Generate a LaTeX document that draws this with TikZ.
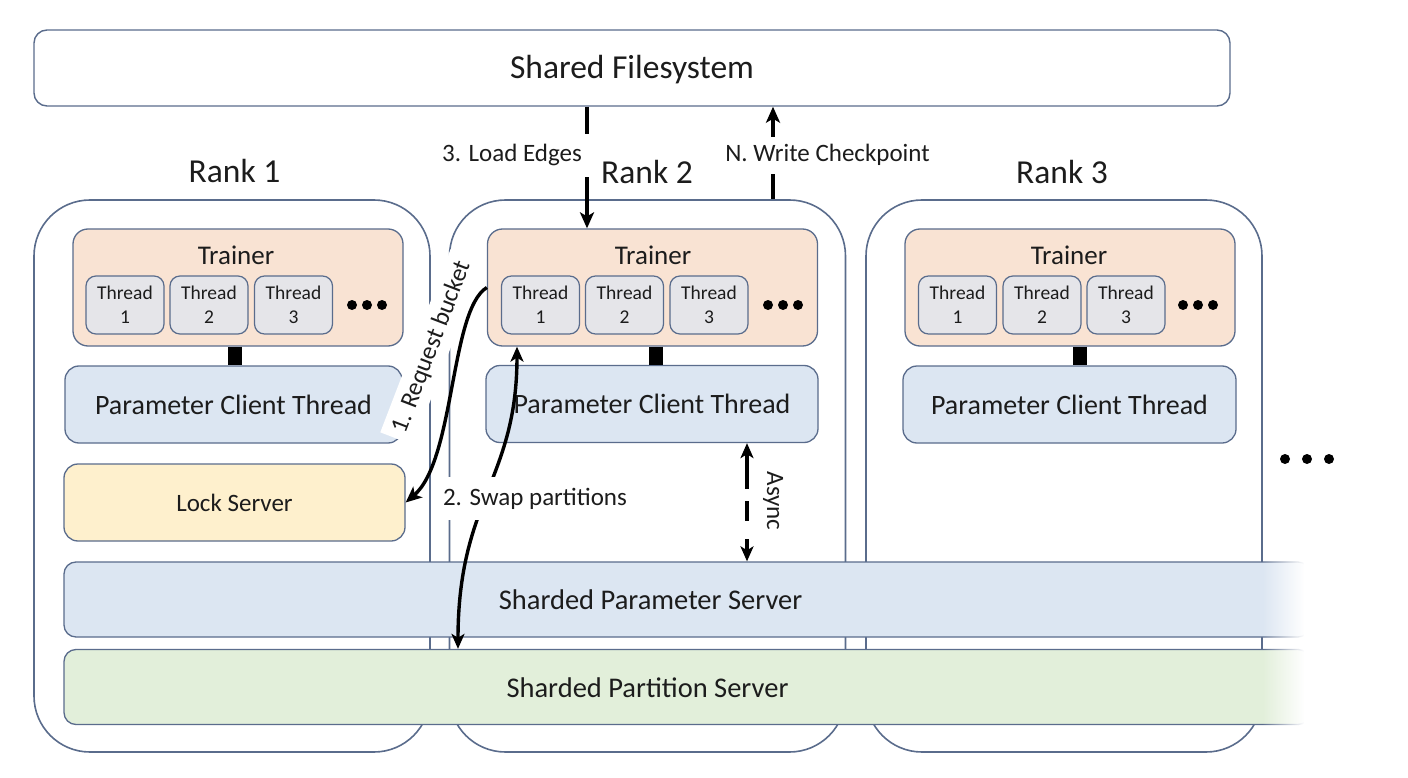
\documentclass[tikz,border=0pt]{standalone}
\usepackage{fontspec}
\setmainfont{Carlito}
\usetikzlibrary{arrows.meta,fadings}
\definecolor{bordc}{RGB}{90,108,140}
\definecolor{trainc}{RGB}{249,227,211}
\definecolor{threadc}{RGB}{229,229,233}
\definecolor{pcc}{RGB}{220,230,242}
\definecolor{lockc}{RGB}{254,240,205}
\definecolor{partc}{RGB}{226,239,218}
\definecolor{txtc}{RGB}{28,28,28}
\tikzfading[name=fadeToRight, left color=transparent!100, right color=transparent!0]
\begin{document}
\begin{tikzpicture}[x=1pt,y=-1pt,
  every node/.style={text=txtc},
  rankbox/.style={draw=bordc, line width=1.6pt, rounded corners=56pt, fill=white, minimum width=396pt, minimum height=552pt, inner sep=0pt},
  ranklbl/.style={font=\fontsize{33.5}{40}\selectfont, anchor=base, inner sep=0pt},
  fsbox/.style={draw=bordc, line width=1.4pt, rounded corners=13pt, fill=white, minimum width=1196pt, minimum height=76pt, inner sep=0pt, text depth=3pt, font=\fontsize{33.5}{40}\selectfont},
  trainbox/.style={draw=bordc, line width=1.3pt, rounded corners=15pt, fill=trainc, minimum width=330pt, minimum height=117pt, inner sep=0pt},
  trainlbl/.style={font=\fontsize{27}{32}\selectfont, anchor=base, inner sep=0pt},
  threadbox/.style={draw=bordc, line width=1.2pt, rounded corners=10pt, fill=threadc, minimum width=78pt, minimum height=58pt, inner sep=0pt, align=center, font=\fontsize{19.5}{24}\selectfont},
  pcbox/.style={draw=bordc, line width=1.3pt, rounded corners=14pt, fill=pcc, minimum height=77pt, inner sep=0pt, font=\fontsize{28}{34}\selectfont},
  lockbox/.style={draw=bordc, line width=1.3pt, rounded corners=14pt, fill=lockc, minimum width=341pt, minimum height=77pt, inner sep=0pt, font=\fontsize{25}{30}\selectfont},
  barbox/.style={draw=bordc, line width=1.3pt, rounded corners=12pt, minimum width=1246pt, minimum height=75pt, inner sep=0pt},
  bartxt/.style={font=\fontsize{28.5}{34}\selectfont, inner sep=0pt},
  conn/.style={line width=14pt, black},
  lbl/.style={font=\fontsize{25}{30}\selectfont, fill=white},
  arr/.style={line width=3.8pt, -{Stealth[length=16pt,width=14pt,inset=4pt]}},
  darr/.style={line width=3.6pt, {Stealth[length=15pt,width=13pt,inset=4pt]}-{Stealth[length=15pt,width=13pt,inset=4pt]}},
]
\useasboundingbox (0,0) rectangle (1408,778);

% shared filesystem
\node[fsbox] (fs) at (632,68) {Shared Filesystem};

% rank containers
\node[rankbox] (rank1) at (232,476) {};
\node[rankbox] (rank2) at (647.5,476) {};
\node[rankbox] (rank3) at (1064,476) {};
\node[ranklbl] (r1lbl) at (234.5,183) {Rank 1};
\node[ranklbl] (r2lbl) at (647,183.5) {Rank 2};
\node[ranklbl] (r3lbl) at (1062,183.5) {Rank 3};

% sharded servers
\node[barbox, fill=pcc] (sps) at (687,599.5) {};
\node[bartxt] (spstxt) at (650.5,599.5) {Sharded Parameter Server};
\node[barbox, fill=partc] (spart) at (687,687) {};
\node[bartxt] (sparttxt) at (647.5,687.5) {Sharded Partition Server};
\fill[white, path fading=fadeToRight] (1262,553) rectangle (1304,734);
\fill[white] (1304,553) rectangle (1318,734);

% trainers
\node[trainbox] (tr1) at (238,287.5) {};
\node[trainbox] (tr2) at (652.5,287.5) {};
\node[trainbox] (tr3) at (1070,287.5) {};
\node[trainlbl] (tr1t) at (236,265) {Trainer};
\node[trainlbl] (tr2t) at (653,264.5) {Trainer};
\node[trainlbl] (tr3t) at (1069,264.5) {Trainer};

% threads
\node[threadbox] (th11) at (125,305) {Thread\\1};
\node[threadbox] (th12) at (209,305) {Thread\\2};
\node[threadbox] (th13) at (293.5,305) {Thread\\3};
\node[threadbox] (th21) at (540.5,305) {Thread\\1};
\node[threadbox] (th22) at (624.5,305) {Thread\\2};
\node[threadbox] (th23) at (709,305) {Thread\\3};
\node[threadbox] (th31) at (957.5,305) {Thread\\1};
\node[threadbox] (th32) at (1042,305) {Thread\\2};
\node[threadbox] (th33) at (1126,305) {Thread\\3};

% ellipsis dots
\foreach \cx in {352,367,382,768,783,798,1183,1198,1213} {
  \fill[black] (\cx,305) circle[radius=5];
}
\foreach \cx in {1285,1307,1329} {
  \fill[black] (\cx,459) circle[radius=5];
}

% parameter client threads
\node[pcbox, minimum width=337pt] (pc1) at (233.5,404.5) {Parameter Client Thread};
\node[pcbox, minimum width=332pt] (pc2) at (652,404) {Parameter Client Thread};
\node[pcbox, minimum width=333pt] (pc3) at (1069.5,404.5) {Parameter Client Thread};

% trainer - client links
\draw[conn] ([xshift=-3]tr1.south) -- ([xshift=-3]tr1.south |- pc1.north);
\draw[conn] ([xshift=3.5]tr2.south) -- ([xshift=3.5]tr2.south |- pc2.north);
\draw[conn] ([xshift=10]tr3.south) -- ([xshift=10]tr3.south |- pc3.north);

% lock server
\node[lockbox] (lock) at (234.5,502.5) {Lock Server};

% 1. request bucket
\node[lbl, rotate=69, inner sep=7pt] (rqlbl) at (432,347) {1. Request bucket};
\draw[arr, line width=3.4pt] (tr2.west) .. controls (450,310) and (455,460) .. (lock.east);

% 3. load edges / N. write checkpoint
\draw[arr] ([xshift=-65.5]tr2.north |- fs.south) -- ([xshift=-65.5]tr2.north);
\node[lbl, anchor=base, inner xsep=9pt, inner ysep=11pt] (lelbl) at (512,162) {3. Load Edges};
\draw[arr] ([xshift=125.5]rank2.north) -- ([xshift=125.5]rank2.north |- fs.south);
\node[lbl, anchor=base, inner xsep=4pt, inner ysep=8pt] (wclbl) at (827.5,162) {N. Write Checkpoint};

% 2. swap partitions
\draw[darr, line width=3.4pt] ([xshift=-135.5]tr2.south) .. controls +(0,133) and +(0,-149) .. ([xshift=-229]spart.north);
\node[lbl, anchor=base, inner xsep=5pt, inner ysep=11pt] (swlbl) at (535,505) {2. Swap partitions};

% async
\draw[darr, dash pattern=on 36pt off 12pt on 20pt off 18pt] ([xshift=95]pc2.south) -- ([xshift=95]pc2.south |- sps.north);
\node[font=\fontsize{25}{30}\selectfont, rotate=-90, inner sep=0pt] (aslbl) at (773,501) {Async};
\end{tikzpicture}
\end{document}
